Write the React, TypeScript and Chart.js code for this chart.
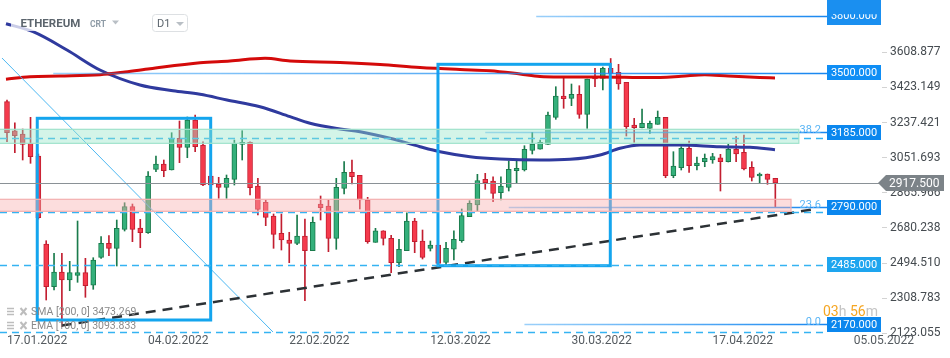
import React, { useEffect, useRef } from "react";
import { Chart, registerables } from "chart.js";

Chart.register(...registerables);

// ---- Candles (daily, index 0 = 17.01.2022) ----
const opens = [
  3347.6, 3194.2, 3176.8, 3127.6, 3060.4, 2595, 2369.1, 2446.9, 2404.6, 2429.4,
  2443.2, 2376.6, 2524.6, 2598.7, 2572.2, 2672.7, 2792.3, 2679.6, 2654.7, 2990.1,
  3018.1, 2986.4, 3154, 3106.4, 3250.8, 3118.6, 2954.6, 2912.3, 2894.9, 2937.2,
  3122.3, 3132.9, 2901.7, 2815.5, 2743.1, 2651.6, 2616.1, 2598.7, 2637.3, 2559.6,
  2806.5, 2796, 2625.1, 2889.6, 2974.2, 2958.3, 2827.7, 2604, 2665.3, 2625.1,
  2496.1, 2559.6, 2716.6, 2610.9, 2572.2, 2589.7, 2498.2, 2567, 2612.4, 2739.4,
  2801.3, 2937.2, 2928.2, 2866.3, 2894.9, 2982.7, 2986.4, 3089.5, 3095.9, 3122.3,
  3265.1, 3377.8, 3365.6, 3386.7, 3281, 3479.8, 3471.4, 3524.3, 3503.1, 3450.2,
  3224.4, 3210.1, 3206.9, 3228.1, 3265.1, 2956.2, 2998.5, 3101.1, 3009.1, 3030.3,
  3039.3, 3051.4, 3030.3, 3095.9, 3080, 3000.6, 2954.6, 2965.2, 2942.5,
];
const highs = [
  3356.6, 3236.5, 3203.2, 3265.1, 3071, 2612.4, 2545.8, 2545.8, 2503.5, 2716.6,
  2519.3, 2522.5, 2633.6, 2638.9, 2721.9, 2813.4, 2806.5, 2725.6, 2977.4, 3060.4,
  3039.3, 3183.6, 3245.5, 3266.7, 3277.3, 3136, 2959.9, 2947.8, 2959.9, 3145,
  3194.2, 3136, 2942.5, 2827.7, 2753.7, 2753.7, 2656.9, 2748.4, 2727.2, 2737.8,
  2848.9, 2827.7, 2942.5, 3030.3, 3039.3, 2958.3, 2842, 2678, 2665.3, 2641,
  2619.8, 2760.5, 2730.9, 2669, 2610.9, 2600.3, 2604, 2665.3, 2780.1, 2824,
  2963.6, 2968.9, 2950.9, 2950.9, 3034, 3034, 3114.9, 3184.7, 3145, 3293.1,
  3426.9, 3474.5, 3441.2, 3432.2, 3467.7, 3524.3, 3531.1, 3576.1, 3545.4, 3450.2,
  3259.8, 3309, 3245.5, 3298.4, 3265.1, 3083.2, 3109.6, 3139.8, 3055.1, 3071,
  3074.7, 3069.4, 3122.3, 3162.5, 3171.5, 3030.3, 2970.5, 2965.2, 2942.5,
];
const lows = [
  3136, 3077.9, 3039.3, 3021.8, 2727.2, 2298.8, 2351.7, 2157.6, 2348, 2392.4,
  2313.1, 2355.4, 2519.3, 2533.1, 2478.6, 2663.7, 2607.2, 2575.4, 2651.6, 2977.4,
  2950.9, 2986.4, 3025, 3051.4, 3083.2, 2903.3, 2901.7, 2836.7, 2836.7, 2907,
  3039.3, 2854.1, 2748.4, 2691.8, 2572.2, 2563.2, 2496.1, 2591.3, 2295.1, 2559.6,
  2721.9, 2554.3, 2567, 2859.4, 2912.3, 2780.1, 2598.7, 2604, 2589.7, 2443.2,
  2474.9, 2559.6, 2549, 2515.6, 2558, 2483.9, 2483.9, 2510.4, 2604, 2739.4,
  2771.1, 2884.3, 2818.7, 2827.7, 2875.3, 2919.2, 2981.1, 3071, 3095.9, 3122.3,
  3254.5, 3312.7, 3326.5, 3259.8, 3206.9, 3426.9, 3409.5, 3497.8, 3413.2, 3166.2,
  3132.9, 3208.5, 3180.5, 3228.1, 2945.6, 2945.6, 2986.4, 2974.2, 2986.4, 3003.8,
  3021.8, 2875.3, 3028.7, 3030.3, 2986.4, 2928.2, 2916, 2910.7, 2792.3,
];
const closes = [
  3183.6, 3167.8, 3122.3, 3056.7, 2734.1, 2369.1, 2446.9, 2404.6, 2443.2, 2443.2,
  2374.4, 2510.4, 2598.7, 2572.2, 2678, 2792.3, 2672.7, 2654.7, 2954.6, 3018.1,
  2982.7, 3154, 3106.4, 3250.8, 3109.6, 2907, 2907, 2894.9, 2942.5, 3127.6,
  3132.9, 2892.8, 2778.5, 2736.2, 2646.3, 2616.1, 2598.7, 2637.3, 2559.6, 2709.8,
  2787, 2625.1, 2894.9, 2974.2, 2950.9, 2827.7, 2607.2, 2665.3, 2625.1, 2496.1,
  2567, 2716.6, 2607.2, 2524.6, 2589.7, 2492.9, 2572.2, 2619.8, 2744.7, 2810.2,
  2929.8, 2919.2, 2863.1, 2901.7, 2990.1, 2995.4, 3095.9, 3123.9, 3132.9, 3277.3,
  3377.8, 3363.5, 3386.7, 3281, 3467.7, 3467.7, 3524.3, 3497.8, 3441.2, 3215.4,
  3210.1, 3233.4, 3233.4, 3265.1, 2956.2, 3007.5, 3101.1, 3009.1, 3023.4, 3048.3,
  3056.7, 3030.3, 3095.9, 3071, 2991.7, 2947.8, 2965.2, 2937.2, 2917.5,
];

// ---- Indicators ----
const smaDays = [-0.13, 2.93, 6.76, 11.86, 15.05, 18.24, 24.62, 28.44, 32.91, 36.1, 42.47, 47.58, 52.68, 57.78, 61.61, 65.43, 67.98, 70.54, 75.6, 82.0, 86.0, 89.0, 92.0, 96.0, 97.96];
const smaValues = [3466.1, 3479.8, 3483.5, 3490.4, 3504.7, 3522.1, 3553.9, 3562.9, 3577.2, 3562.9, 3554.9, 3544.4, 3528.5, 3517.9, 3511.6, 3494.1, 3480.9, 3478.3, 3478.3, 3475, 3482, 3490, 3483, 3476, 3473.3];
const emaDays = [-0.13, 3.32, 7.65, 11.86, 16.96, 21.17, 24.62, 28.06, 32.27, 36.1, 38.65, 42.47, 45.03, 48.85, 52.68, 55.23, 59.06, 62.88, 67.98, 71.8, 75.64, 78.19, 80.74, 85.84, 90.94, 94.77, 97.96];
const emaValues = [3760.1, 3717.8, 3621.1, 3515.3, 3435.9, 3405.8, 3386.7, 3356.6, 3321.2, 3268.3, 3233.4, 3203.2, 3189, 3154, 3109.6, 3083.2, 3056.7, 3044.5, 3039.3, 3042.9, 3065.7, 3101.1, 3118.6, 3118.6, 3109.6, 3106.4, 3093.8];

// ---- Axes ----
const tickDays = [0, 18, 36, 54, 72, 90, 108];
const tickLabels = ["17.01.2022", "04.02.2022", "22.02.2022", "12.03.2022", "30.03.2022", "17.04.2022", "05.05.2022"];
const priceTicks = [3608.877, 3423.149, 3237.421, 3051.693, 2865.966, 2680.238, 2494.51, 2308.783, 2123.055];
const X_MIN = -0.893;
const X_MAX = 111.607;
const Y_MIN = 2119.0;
const Y_MAX = 3885.5;

// ---- Drawing tools ----
const solidLevelPrices = [3800, 3500, 3185, 2790, 2170];
const solidLevelStartDays = [67.5, 5.9, 61, 64, 66];
const dashedLevelPrices = [3155, 2765, 2485, 2128];
const labelPrices = [3800, 3500, 3185, 2790, 2485, 2170];
const labelColors = ["#1a8ff0", "#0f8ef5", "#0b87ee", "#0b87ee", "#1ea5ef", "#0b87ee"];
const fibTexts = ["38.2", "23.6", "0.0"];
const fibPrices = [3185, 2790, 2170];
const greenBand = [3127.5, 3201.6];
const pinkBand = [2767.9, 2831.4];
const bandEndDays = [101, 100];
const boxStartDays = [3.86, 54.97];
const boxEndDays = [25.98, 76.95];
const boxTops = [3259.8, 3545.4];
const boxBottoms = [2193, 2480.2];
const diagDays = [-0.64, 33.93];
const diagPrices = [3578.7, 2129.5];
const trendDays = [6.98, 102.8];
const trendPrices = [2164, 2777.5];
const lastPrice = 2917.5;
const smaLegend = "SMA [200, 0] 3473.269";
const emaLegend = "EMA [100, 0] 3093.833";

const UP_FILL = "#34b07b";
const UP_LINE = "#1a7b4c";
const DN_FILL = "#f53a4c";
const DN_LINE = "#c21e30";
const FONT = "Roboto, 'Open Sans', sans-serif";

const overlay = {
  id: "overlay",
  afterDatasetsDraw(chart: any) {
    const { ctx, chartArea: ca, scales } = chart;
    const X = (d: number) => scales.x.getPixelForValue(d);
    const Y = (p: number) => scales.y.getPixelForValue(p);
    const labelLeft = ca.right - 55;
    ctx.save();
    ctx.beginPath();
    ctx.rect(ca.left, ca.top, ca.right - ca.left, ca.bottom - ca.top);
    ctx.clip();

    // thin diagonal line
    ctx.strokeStyle = "#4db8f2";
    ctx.lineWidth = 1;
    ctx.beginPath();
    ctx.moveTo(X(diagDays[0]), Y(diagPrices[0]));
    ctx.lineTo(X(diagDays[1]), Y(diagPrices[1]));
    ctx.stroke();

    // black dashed trend line
    ctx.strokeStyle = "#2c3135";
    ctx.lineWidth = 2.5;
    ctx.setLineDash([10, 7]);
    ctx.beginPath();
    ctx.moveTo(X(trendDays[0]), Y(trendPrices[0]));
    ctx.lineTo(X(trendDays[1]), Y(trendPrices[1]));
    ctx.stroke();
    ctx.setLineDash([]);

    // boxes
    ctx.strokeStyle = "#14a5ee";
    ctx.lineWidth = 3;
    for (let i = 0; i < boxStartDays.length; i++) {
      const x1 = X(boxStartDays[i]);
      const x2 = X(boxEndDays[i]);
      const y1 = Y(boxTops[i]);
      const y2 = Y(boxBottoms[i]);
      ctx.strokeRect(x1, y1, x2 - x1, y2 - y1);
    }

    // dashed levels
    ctx.strokeStyle = "#35b3f2";
    ctx.lineWidth = 1.3;
    ctx.setLineDash([7, 5]);
    for (const p of dashedLevelPrices) {
      const y = Math.round(Y(p)) + 0.5;
      ctx.beginPath();
      ctx.moveTo(ca.left, y);
      ctx.lineTo(labelLeft, y);
      ctx.stroke();
    }
    ctx.setLineDash([]);

    // solid levels
    for (let i = 0; i < solidLevelPrices.length; i++) {
      const y = Math.round(Y(solidLevelPrices[i])) + 0.5;
      const x1 = X(solidLevelStartDays[i]);
      const g = ctx.createLinearGradient(x1, 0, labelLeft, 0);
      g.addColorStop(0, "rgba(33,150,243,0.45)");
      g.addColorStop(1, "rgba(25,135,240,1)");
      ctx.strokeStyle = g;
      ctx.lineWidth = 1.3;
      ctx.beginPath();
      ctx.moveTo(x1, y);
      ctx.lineTo(labelLeft, y);
      ctx.stroke();
    }

    // bands
    const bands = [
      { r: greenBand, fill: "rgba(150,228,200,0.42)", line: "#9fe2cb", end: bandEndDays[0] },
      { r: pinkBand, fill: "rgba(247,175,175,0.42)", line: "#f3b0b0", end: bandEndDays[1] },
    ];
    for (const b of bands) {
      const y1 = Y(b.r[1]);
      const y2 = Y(b.r[0]);
      const x2 = X(b.end);
      ctx.fillStyle = b.fill;
      ctx.fillRect(ca.left, y1, x2 - ca.left, y2 - y1);
      ctx.strokeStyle = b.line;
      ctx.lineWidth = 1.2;
      ctx.strokeRect(ca.left - 2, y1, x2 - ca.left + 2, y2 - y1);
    }

    // last price line
    ctx.strokeStyle = "#8a9196";
    ctx.lineWidth = 1.2;
    const yl = Math.round(Y(lastPrice)) + 0.5;
    ctx.beginPath();
    ctx.moveTo(ca.left, yl);
    ctx.lineTo(ca.right, yl);
    ctx.stroke();

    ctx.restore();
  },
  afterDraw(chart: any) {
    const { ctx, chartArea: ca, scales } = chart;
    const Y = (p: number) => scales.y.getPixelForValue(p);
    const labelLeft = ca.right - 55;
    ctx.save();

    // fib labels
    ctx.font = `11px ${FONT}`;
    ctx.fillStyle = "#5ab5f5";
    ctx.textAlign = "right";
    ctx.textBaseline = "alphabetic";
    for (let i = 0; i < fibTexts.length; i++) {
      ctx.fillText(fibTexts[i], labelLeft - 6, Y(fibPrices[i]) + 1);
    }

    // level labels
    ctx.font = `11px ${FONT}`;
    ctx.textAlign = "center";
    ctx.textBaseline = "middle";
    for (let i = 0; i < labelPrices.length; i++) {
      const y = Y(labelPrices[i]);
      ctx.fillStyle = labelColors[i];
      if (y < 20) {
        // label pinned against the top edge, text partly hidden
        const bottom = Math.round(y + 8.5);
        ctx.fillRect(labelLeft, 0, 54, bottom);
        ctx.save();
        ctx.beginPath();
        ctx.rect(labelLeft, y - 2, 54, bottom - y + 2);
        ctx.clip();
        ctx.fillStyle = "#ffffff";
        ctx.fillText(labelPrices[i].toFixed(3), labelLeft + 27, y + 0.5);
        ctx.restore();
      } else {
        ctx.fillRect(labelLeft, Math.round(y - 7.5), 54, 15);
        ctx.fillStyle = "#ffffff";
        ctx.fillText(labelPrices[i].toFixed(3), labelLeft + 27, y + 0.5);
      }
    }

    // last price arrow label
    const yl = Y(lastPrice);
    ctx.fillStyle = "#7c8388";
    ctx.beginPath();
    ctx.moveTo(ca.right - 4, yl);
    ctx.lineTo(ca.right + 4, yl - 8);
    ctx.lineTo(ca.right + 62, yl - 8);
    ctx.lineTo(ca.right + 62, yl + 8);
    ctx.lineTo(ca.right + 4, yl + 8);
    ctx.closePath();
    ctx.fill();
    ctx.fillStyle = "#ffffff";
    ctx.font = `12px ${FONT}`;
    ctx.textAlign = "left";
    ctx.fillText(lastPrice.toFixed(3), ca.right + 7, yl + 0.5);

    // countdown
    ctx.font = `14px ${FONT}`;
    ctx.textBaseline = "middle";
    let cx = labelLeft - 4;
    const parts: [string, string][] = [["03", "#f5a623"], ["h", "#c4c4c4"], [" 56", "#f5a623"], ["m", "#c4c4c4"]];
    for (const [t, c] of parts) {
      ctx.fillStyle = c;
      ctx.fillText(t, cx, 312.5);
      cx += ctx.measureText(t).width;
    }

    // indicator legend
    const rows = [smaLegend, emaLegend];
    for (let r = 0; r < rows.length; r++) {
      const cy = 311.5 + r * 14;
      ctx.strokeStyle = "#bdbdbd";
      ctx.lineWidth = 1.5;
      for (let k = -3; k <= 3; k += 3) {
        ctx.beginPath();
        ctx.moveTo(7, cy + k);
        ctx.lineTo(14, cy + k);
        ctx.stroke();
      }
      ctx.lineWidth = 2;
      ctx.beginPath();
      ctx.moveTo(20.5, cy - 3.5);
      ctx.lineTo(26.5, cy + 3.5);
      ctx.moveTo(26.5, cy - 3.5);
      ctx.lineTo(20.5, cy + 3.5);
      ctx.stroke();
      ctx.fillStyle = "#8a8a8a";
      ctx.font = `10.5px ${FONT}`;
      ctx.textAlign = "left";
      ctx.fillText(rows[r], 31, cy + 0.5);
    }

    // header
    ctx.fillStyle = "rgba(255,255,255,0.75)";
    ctx.fillRect(11, 6, 185, 25);
    ctx.fillStyle = "#5c656d";
    ctx.font = `bold 11.5px ${FONT}`;
    ctx.textBaseline = "alphabetic";
    ctx.fillText("ETHEREUM", 20.5, 27.3);
    ctx.fillStyle = "#8e9ba6";
    ctx.font = `bold 8.5px ${FONT}`;
    ctx.fillText("CRT", 90, 26.7);
    ctx.fillStyle = "#b9bfc5";
    ctx.beginPath();
    ctx.moveTo(112, 20.5);
    ctx.lineTo(119, 20.5);
    ctx.lineTo(115.5, 24.5);
    ctx.closePath();
    ctx.fill();
    ctx.fillStyle = "#ffffff";
    ctx.strokeStyle = "#dde0e3";
    ctx.lineWidth = 1;
    ctx.beginPath();
    (ctx as any).roundRect(152.5, 14.5, 35, 17, 3);
    ctx.fill();
    ctx.stroke();
    ctx.fillStyle = "#5c656d";
    ctx.font = `11px ${FONT}`;
    ctx.fillText("D1", 157, 27.3);
    ctx.fillStyle = "#b9bfc5";
    ctx.beginPath();
    ctx.moveTo(176, 22);
    ctx.lineTo(184, 22);
    ctx.lineTo(180, 26);
    ctx.closePath();
    ctx.fill();

    ctx.restore();
  },
};

function buildConfig(): any {
  const days = opens.map((_, i) => i);
  const up = days.map((i) => closes[i] >= opens[i]);
  return {
    type: "bar",
    data: {
      datasets: [
        {
          type: "line",
          data: smaDays.map((d, i) => ({ x: d, y: smaValues[i] })),
          borderColor: "#d40a0a",
          borderWidth: 3,
          pointRadius: 0,
          cubicInterpolationMode: "monotone",
          order: 0,
        },
        {
          type: "line",
          data: emaDays.map((d, i) => ({ x: d, y: emaValues[i] })),
          borderColor: "#2f3a9e",
          borderWidth: 3,
          pointRadius: 0,
          cubicInterpolationMode: "monotone",
          order: 1,
        },
        {
          type: "bar",
          data: days.map((i) => ({ x: i, y: [opens[i], closes[i]] })),
          backgroundColor: up.map((u) => (u ? UP_FILL : DN_FILL)),
          borderColor: up.map((u) => (u ? UP_LINE : DN_LINE)),
          borderWidth: 1,
          borderSkipped: false,
          barThickness: 5,
          grouped: false,
          order: 2,
        },
        {
          type: "bar",
          data: days.map((i) => ({ x: i, y: [lows[i], highs[i]] })),
          backgroundColor: up.map((u) => (u ? UP_LINE : DN_LINE)),
          borderWidth: 0,
          barThickness: 1,
          grouped: false,
          order: 3,
        },
      ],
    },
    options: {
      responsive: false,
      animation: false,
      devicePixelRatio: 1,
      events: [],
      layout: { padding: 0 },
      plugins: { legend: { display: false }, tooltip: { enabled: false } },
      scales: {
        x: {
          type: "linear",
          min: X_MIN,
          max: X_MAX,
          offset: false,
          bounds: "data",
          grid: { display: false, drawTicks: false, offset: false },
          border: { display: false },
          afterBuildTicks: (s: any) => {
            s.ticks = tickDays.map((v) => ({ value: v }));
          },
          afterFit: (s: any) => {
            s.height = 24;
            s.paddingLeft = 0;
            s.paddingRight = 0;
          },
          ticks: {
            align: "start",
            padding: 0,
            maxRotation: 0,
            autoSkip: false,
            color: "#555b60",
            font: { size: 12, family: FONT },
            callback: (v: any) => {
              const i = tickDays.indexOf(Number(v));
              return i >= 0 ? tickLabels[i] : "";
            },
          },
        },
        y: {
          type: "linear",
          position: "right",
          min: Y_MIN,
          max: Y_MAX,
          beginAtZero: false,
          bounds: "data",
          grid: { drawOnChartArea: false, drawTicks: true, tickLength: 5, color: "#d3d3d3" },
          border: { display: false },
          afterBuildTicks: (s: any) => {
            s.ticks = priceTicks.map((v) => ({ value: v }));
          },
          afterFit: (s: any) => {
            s.width = 68;
            s.paddingTop = 0;
            s.paddingBottom = 0;
          },
          ticks: {
            padding: 3,
            autoSkip: false,
            color: "#454b50",
            font: { size: 12, family: FONT },
            callback: (v: any) => Number(v).toFixed(3),
          },
        },
      },
    },
    plugins: [overlay],
  };
}

export default function App() {
  const ref = useRef<HTMLCanvasElement | null>(null);
  useEffect(() => {
    document.body.style.margin = "0";
    const chart = new Chart(ref.current as HTMLCanvasElement, buildConfig());
    return () => chart.destroy();
  }, []);
  return (
    <div style={{ width: 950, height: 358, background: "#ffffff" }}>
      <canvas ref={ref} width={950} height={358} style={{ display: "block", width: 950, height: 358 }} />
    </div>
  );
}
